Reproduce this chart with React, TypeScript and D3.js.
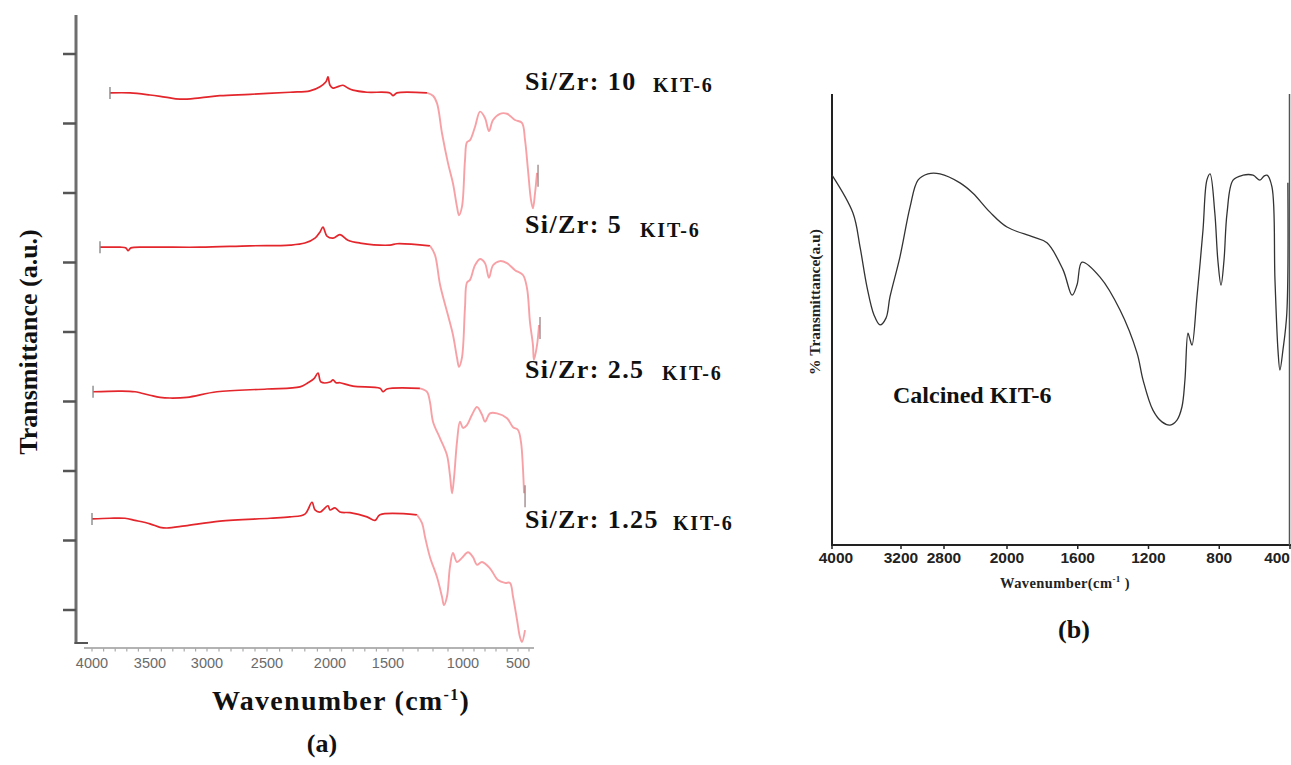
import React from 'react';
import * as d3 from 'd3';

type Pt = [number, number];

// ---------- Panel (a) data: [wavenumber cm-1, transmittance a.u. (offset)] ----------
const leftTickValues = [4000, 3500, 3000, 2500, 2000, 1500, 1000, 500];
const leftYTicks = [0, 1, 2, 3, 4, 5, 6, 7, 8];
const seriesNames = ['Si/Zr: 10', 'Si/Zr: 5', 'Si/Zr: 2.5', 'Si/Zr: 1.25'];

const zr10: Pt[] = [[3845,7.44],[3672,7.44],[3500,7.41],[3368,7.38],[3237,7.35],[3061,7.37],[2892,7.40],[2642,7.42],[2317,7.45],[2159,7.47],[2079,7.53],[2032,7.60],[2016,7.67],[2000,7.55],[1974,7.51],[1931,7.53],[1888,7.55],[1845,7.51],[1802,7.48],[1681,7.45],[1487,7.44],[1467,7.40],[1440,7.44],[1240,7.44],[1200,7.40],[1173,7.29],[1140,6.86],[1100,6.43],[1067,6.14],[1040,5.80],[1027,5.68],[1007,5.80],[982,6.47],[964,6.73],[936,6.76],[891,6.95],[845,7.17],[800,7.08],[764,6.89],[727,7.05],[664,7.14],[600,7.14],[527,7.05],[464,7.01],[436,6.76],[409,6.33],[382,5.90],[364,5.78],[345,6.00],[327,6.29]];

const zr5: Pt[] = [[3931,5.22],[3759,5.22],[3707,5.21],[3690,5.17],[3664,5.21],[3500,5.22],[3061,5.22],[2642,5.24],[2317,5.25],[2199,5.28],[2119,5.35],[2079,5.44],[2056,5.51],[2024,5.38],[1974,5.35],[1914,5.40],[1845,5.32],[1741,5.28],[1487,5.25],[1440,5.27],[1220,5.24],[1187,5.11],[1153,4.68],[1100,4.24],[1067,3.96],[1040,3.63],[1027,3.50],[1007,3.63],[982,4.35],[964,4.71],[936,4.75],[891,4.96],[845,5.05],[800,4.99],[764,4.78],[727,4.96],[664,5.02],[600,4.99],[527,4.89],[455,4.82],[418,4.63],[391,4.14],[364,3.81],[355,3.60],[327,3.81],[309,4.10]];

const zr25: Pt[] = [[3991,3.14],[3759,3.15],[3629,3.14],[3500,3.09],[3412,3.06],[3325,3.05],[3176,3.06],[2917,3.14],[2500,3.18],[2238,3.21],[2175,3.27],[2127,3.33],[2095,3.41],[2071,3.28],[2000,3.28],[1974,3.31],[1948,3.27],[1914,3.27],[1802,3.22],[1569,3.19],[1543,3.14],[1509,3.18],[1287,3.19],[1240,3.14],[1220,2.99],[1200,2.71],[1153,2.47],[1107,2.23],[1087,1.94],[1073,1.68],[1060,1.90],[1040,2.42],[1020,2.71],[1000,2.62],[964,2.66],[918,2.81],[873,2.92],[827,2.81],[800,2.71],[755,2.83],[691,2.83],[600,2.76],[545,2.63],[500,2.59],[473,2.42],[455,2.04],[445,1.68]];

const zr125: Pt[] = [[4000,1.31],[3845,1.32],[3716,1.32],[3629,1.29],[3500,1.24],[3412,1.19],[3351,1.18],[3193,1.21],[2892,1.28],[2476,1.32],[2318,1.34],[2199,1.38],[2143,1.55],[2119,1.44],[2079,1.41],[2016,1.50],[2000,1.44],[1957,1.47],[1914,1.41],[1828,1.40],[1681,1.34],[1612,1.29],[1569,1.37],[1307,1.37],[1273,1.25],[1253,1.05],[1220,0.76],[1173,0.47],[1140,0.19],[1127,0.07],[1107,0.19],[1087,0.62],[1067,0.82],[1040,0.69],[1007,0.75],[955,0.83],[909,0.76],[873,0.65],[827,0.69],[755,0.60],[682,0.43],[618,0.39],[573,0.39],[545,0.19],[509,-0.14],[482,-0.39],[464,-0.46],[436,-0.29]];

// ---------- Panel (b) data: [wavenumber cm-1, %T] ----------
const rightTickValues = [4000, 3200, 2800, 2000, 1600, 1200, 800, 400];
const calcined: Pt[] = [[4000,82.0],[3757,73.6],[3675,66.1],[3594,57.2],[3513,51.0],[3444,48.8],[3374,50.3],[3328,55.0],[3212,63.9],[3116,74.9],[3042,80.9],[2949,82.3],[2837,82.3],[2597,80.3],[2432,78.0],[2216,73.8],[2000,70.5],[1853,68.3],[1774,67.0],[1683,61.0],[1632,55.4],[1604,57.7],[1576,62.7],[1474,59.4],[1361,52.1],[1265,42.6],[1231,36.6],[1175,29.9],[1124,27.3],[1078,26.6],[1039,27.7],[1011,30.6],[994,36.6],[977,47.0],[965,45.5],[954,44.3],[926,55.0],[892,69.8],[870,80.9],[852,82.3],[825,73.6],[808,63.2],[790,57.6],[773,63.2],[756,73.6],[722,80.9],[666,82.0],[609,82.0],[570,80.9],[547,81.8],[530,82.0],[502,79.4],[485,58.8],[468,43.2],[457,38.8],[440,43.2],[418,51.4],[412,80.3]];

const leftSeries = [zr10, zr5, zr25, zr125];

const serif = '"Liberation Serif", "Times New Roman", serif';
const sans = '"Liberation Sans", Arial, sans-serif';

export default function App() {
  // Panel (a) scales
  const xL = d3.scaleLinear().domain(leftTickValues).range([92, 150, 207, 267, 330, 388, 463, 518]);
  const yL = d3.scaleLinear().domain([0, 8]).range([610, 54]);
  const lineL = d3.line<Pt>().x(d => xL(d[0])).y(d => yL(d[1])).curve(d3.curveCatmullRom.alpha(0.5));

  // Panel (b) scales
  const xR = d3.scaleLinear().domain([4000, 3200, 2800, 2000, 400]).range([832, 901, 944, 1007, 1290]);
  const yR = d3.scaleLinear().domain([0, 100]).range([545, 94]);
  const lineR = d3.line<Pt>().x(d => xR(d[0])).y(d => yR(d[1])).curve(d3.curveCatmullRom.alpha(0.5));

  const minorTicks = d3.range(4000, 399, -100);
  const SPLIT = 1420;

  const labelPos = [
    { y: 90, kx: 653, ky: 92 },
    { y: 233, kx: 640, ky: 237 },
    { y: 378, kx: 662, ky: 380 },
    { y: 528, kx: 673, ky: 530 },
  ];

  return (
    <svg width={1291} height={765} style={{ position: 'absolute', left: 0, top: 0, background: '#fff' }}>
      <rect x={0} y={0} width={1291} height={765} fill="#fff" />
      {/* ---------------- Panel (a) ---------------- */}
      <g>
        <line x1={76} y1={15} x2={76} y2={644} stroke="#6e6e6e" strokeWidth={3} />
        <line x1={74.5} y1={643} x2={88} y2={643} stroke="#555" strokeWidth={2} />
        {leftYTicks.map(t => (
          <line key={t} x1={63} x2={76} y1={yL(t)} y2={yL(t)} stroke="#555" strokeWidth={2.5} />
        ))}
        <line x1={84} y1={648} x2={534} y2={648} stroke="#9a9a9a" strokeWidth={1.4} />
        {minorTicks.map(t => (
          <line key={t} x1={xL(t)} x2={xL(t)} y1={648} y2={651.5} stroke="#aaa" strokeWidth={1.2} />
        ))}
        {leftTickValues.map(t => (
          <text key={t} x={xL(t)} y={668} textAnchor="middle" fontFamily={sans} fontSize={14.5} fill="#6a6a6a">{t}</text>
        ))}
        {leftSeries.map((s, i) => {
          const idx = s.findIndex(d => d[0] < SPLIT);
          const red = s.slice(0, idx + 1);
          const pink = s.slice(idx);
          const x0 = xL(s[0][0]);
          const y0 = yL(s[0][1]);
          const last = s[s.length - 1];
          return (
            <g key={i}>
              <path d={lineL(red) || ''} fill="none" stroke="#e3262c" strokeWidth={1.7} strokeLinejoin="round" />
              <path d={lineL(pink) || ''} fill="none" stroke="#f7a1a6" strokeWidth={1.9} strokeLinejoin="round" />
              <line x1={x0} x2={x0} y1={y0 - 6} y2={y0 + 6} stroke="#8a8a8a" strokeWidth={1.4} />
              {i < 3 && (
                <line x1={xL(last[0]) + 1} x2={xL(last[0]) + 1} y1={yL(last[1]) - 8} y2={yL(last[1]) + 14} stroke="#8a7070" strokeWidth={1.4} opacity={0.8} />
              )}
            </g>
          );
        })}
        {seriesNames.map((n, i) => (
          <g key={n} fontFamily={serif} fontWeight="bold" fill="#111">
            <text x={525} y={labelPos[i].y} fontSize={26} letterSpacing={1.4}>{n}</text>
            <text x={labelPos[i].kx} y={labelPos[i].ky} fontSize={20} letterSpacing={1.8}>KIT-6</text>
          </g>
        ))}
        <text transform="translate(37,342) rotate(-90)" textAnchor="middle" fontFamily={serif} fontWeight="bold" fontSize={26} fill="#111">Transmittance (a.u.)</text>
        <text x={341} y={710} textAnchor="middle" fontFamily={serif} fontWeight="bold" fontSize={28} letterSpacing={1.3} fill="#111">
          Wavenumber (cm<tspan dy={-10} fontSize={16}>-1</tspan><tspan dy={10}>)</tspan>
        </text>
        <text x={322} y={752} textAnchor="middle" fontFamily={serif} fontWeight="bold" fontSize={26} fill="#111">(a)</text>
      </g>

      {/* ---------------- Panel (b) ---------------- */}
      <g>
        <line x1={832} y1={94} x2={832} y2={546} stroke="#222" strokeWidth={2} />
        <line x1={831} y1={545} x2={1291} y2={545} stroke="#222" strokeWidth={2} />
        <line x1={1289.5} y1={94} x2={1289.5} y2={546} stroke="#555" strokeWidth={1.5} />
        {rightTickValues.map(t => (
          <line key={t} x1={xR(t)} x2={xR(t)} y1={545} y2={549} stroke="#222" strokeWidth={1.5} />
        ))}
        {rightTickValues.map(t => (
          <text key={t} x={t === 400 ? 1290 : xR(t) + (t === 4000 ? 4 : 0)} y={563} textAnchor={t === 400 ? 'end' : 'middle'} fontFamily={sans} fontWeight="bold" fontSize={15.5} fill="#222">{t}</text>
        ))}
        <path d={lineR(calcined) || ''} fill="none" stroke="#333" strokeWidth={1.3} strokeLinejoin="round" />
        <text transform="translate(820,302) rotate(-90)" textAnchor="middle" fontFamily={serif} fontWeight="bold" fontSize={15.5} fill="#222">% Transmittance(a.u)</text>
        <text x={893} y={403} fontFamily={serif} fontWeight="bold" fontSize={24} fill="#111">Calcined KIT-6</text>
        <text x={1065} y={588} textAnchor="middle" fontFamily={serif} fontWeight="bold" fontSize={14.5} letterSpacing={0.4} fill="#222">
          Wavenumber(cm<tspan dy={-6} fontSize={9}>-1</tspan><tspan dy={6}> )</tspan>
        </text>
        <text x={1074} y={638} textAnchor="middle" fontFamily={serif} fontWeight="bold" fontSize={26} fill="#111">(b)</text>
      </g>
    </svg>
  );
}
